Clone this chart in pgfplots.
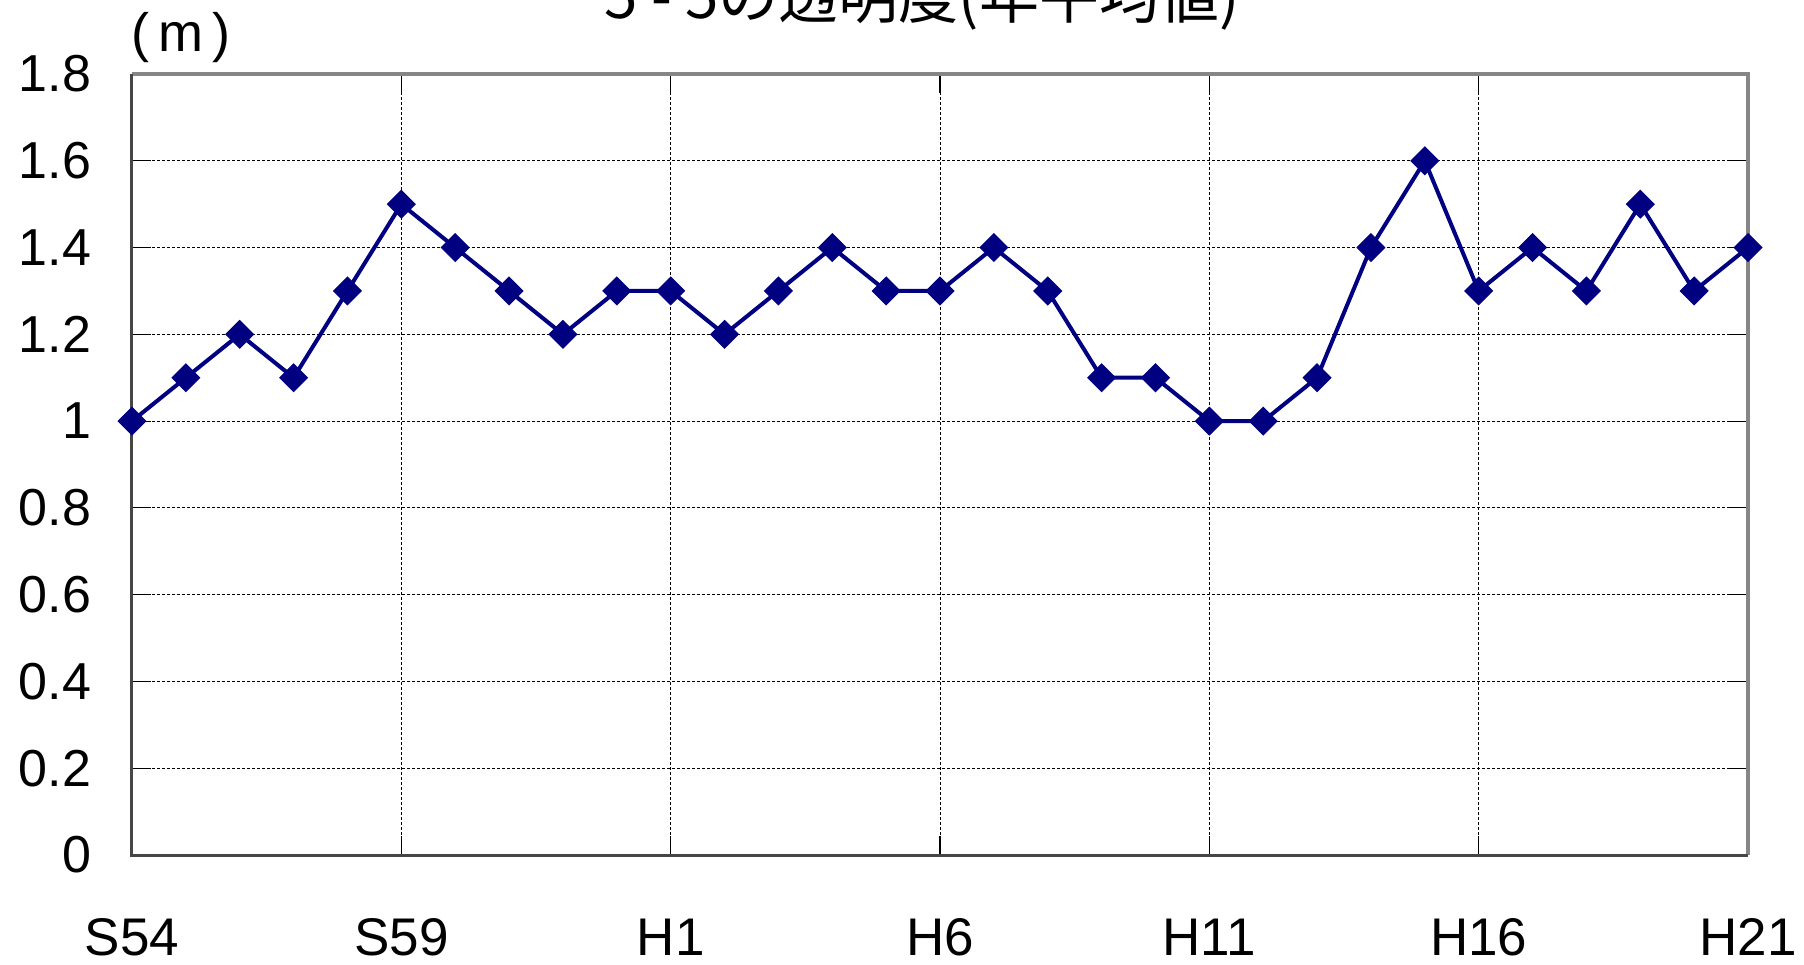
\documentclass[border=0pt]{standalone}
\usepackage{pgfplots}
\pgfplotsset{compat=1.18}
\usepackage{fontspec}
\setmainfont{Liberation Sans}
\newfontfamily\cjk{Noto Sans CJK JP}
\definecolor{navyline}{RGB}{0,0,128}
\definecolor{framegray}{RGB}{134,134,134}
\definecolor{framedark}{RGB}{70,70,70}
\begin{document}
\begin{tikzpicture}
\useasboundingbox (0,0) rectangle (902pt,482pt);
\begin{axis}[
  at={(66pt,54.5pt)}, anchor=south west,
  width=808pt, height=390.5pt, scale only axis,
  xmin=0, xmax=30, ymin=0, ymax=1.8,
  xtick={0,5,10,15,20,25,30},
  xticklabels={S54,S59,H1,H6,H11,H16,H21},
  ytick={0,0.2,0.4,0.6,0.8,1,1.2,1.4,1.6,1.8},
  yticklabels={0,0.2,0.4,0.6,0.8,1,1.2,1.4,1.6,1.8},
  /pgf/number format/assume math mode=true,
  tick label style={font=\fontsize{26pt}{30pt}\selectfont},
  xticklabel style={font=\fontsize{26.5pt}{30pt}\selectfont, anchor=base, yshift=-50pt},
  yticklabel style={anchor=east, xshift=-17pt},
  tick align=inside, major tick length=9.5pt,
  tick style={black, line width=0.6pt},
  grid=major,
  major grid style={black, line width=0.5pt, dash pattern=on 1.5pt off 1pt},
  axis line style={draw=none},
  clip=false,
]
\addplot[color=navyline, line width=2pt, mark=square*, mark size=4.9pt,
  mark options={rotate=45, fill=navyline, draw=navyline, line width=0.5pt}]
  coordinates {
  (0,1.0) (1,1.1) (2,1.2) (3,1.1) (4,1.3) (5,1.5) (6,1.4) (7,1.3) (8,1.2) (9,1.3)
  (10,1.3) (11,1.2) (12,1.3) (13,1.4) (14,1.3) (15,1.3) (16,1.4) (17,1.3) (18,1.1) (19,1.1)
  (20,1.0) (21,1.0) (22,1.1) (23,1.4) (24,1.6) (25,1.3) (26,1.4) (27,1.3) (28,1.5) (29,1.3)
  (30,1.4)};
\draw[framegray, line width=2pt] (rel axis cs:0,1) -- (rel axis cs:1,1) -- (rel axis cs:1,0);
\draw[framedark, line width=1.5pt] (rel axis cs:0,1) -- (rel axis cs:0,0) -- (rel axis cs:1,0);
\end{axis}
\node[anchor=base, font=\fontsize{30pt}{34pt}\selectfont] at (461pt,472.5pt) {\cjk 5 - 5の透明度(年平均値)};
\node[anchor=base, font=\fontsize{27pt}{30pt}\selectfont] at (90.5pt,456pt) {(\,m\,)};
\end{tikzpicture}
\end{document}
